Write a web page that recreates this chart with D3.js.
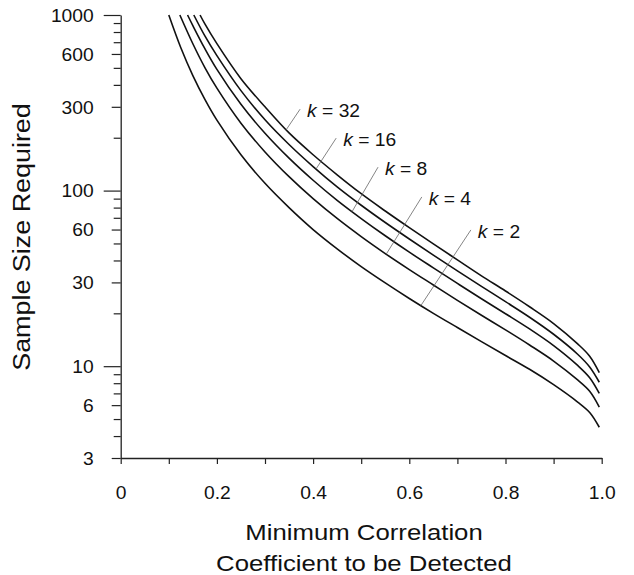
<!DOCTYPE html>
<html>
<head>
<meta charset="utf-8">
<style>
  body { margin: 0; background: #fff; }
  svg { display: block; font-family: "Liberation Sans", Arial, sans-serif; }
  .axis .domain { stroke: #222; stroke-width: 1.3; }
  .axis .tick line { stroke: #222; stroke-width: 1.2; }
  .axis .tick text { font-size: 17.5px; fill: #111; }
  .curve { fill: none; stroke: #111; stroke-width: 1.6; }
  .leader { stroke: #666; stroke-width: 0.8; }
  .k-label { font-size: 18.5px; fill: #111; }
  .axis-title { font-size: 23px; fill: #111; }
</style>
</head>
<body>
<svg width="634" height="575"></svg>
<script src="https://cdn.jsdelivr.net/npm/d3@7"></script>
<script>
// correlation grid shared by all curves
const corr = [0.1, 0.125, 0.15, 0.175, 0.2, 0.25, 0.3, 0.35, 0.4, 0.45, 0.5,
              0.55, 0.6, 0.65, 0.7, 0.75, 0.8, 0.85, 0.9, 0.95, 0.975, 0.995]

// sample size (null = curve not started yet)
const nK2  = [null, 651, 452, 331, 252, 160, 110, 80, 60, 46.6, 36.9, 29.8, 24.3, 20.0, 16.6, 13.8, 11.5, 9.6, 7.85, 6.25, 5.45, 4.49]
const nK4  = [null, null, 686, 502, 383, 242, 166, 120, 90, 69.4, 54.7, 43.8, 35.5, 29.0, 23.7, 19.5, 16.1, 13.2, 10.7, 8.35, 7.2, 5.85]
const nK8  = [null, null, 870, 643, 490, 310, 212, 153, 114.5, 88, 69.3, 55.3, 44.6, 36.3, 29.6, 24.2, 19.9, 16.3, 13.1, 10.1, 8.6, 7.0]
const nK16 = [null, null, null, 760, 587, 371, 253, 183, 137, 105, 82.5, 65.8, 53, 42.9, 34.9, 28.5, 23.3, 19.0, 15.2, 11.7, 9.9, 8.1]
const nK32 = [null, null, null, 890, 687, 434, 300, 213, 160, 123, 96, 76.5, 61.5, 49.7, 40.3, 32.7, 26.8, 21.8, 17.5, 13.4, 11.4, 9.2]

const kValues = [2, 4, 8, 16, 32]
const seriesN = [nK2, nK4, nK8, nK16, nK32]
// where each curve leaves the top of the plot (n = 1000)
const startCorr = [0.1, 0.123, 0.139, 0.152, 0.165]

// label leader lines: top end (label side) and bottom end (on curve)
const labelTopCorr = [0.728, 0.626, 0.535, 0.448, 0.373]
const labelTopN = [59.7, 92, 136, 199, 291]
const leaderCorr = [0.624, 0.552, 0.481, 0.406, 0.344]

const yTicks = [3, 4, 5, 6, 7, 8, 9, 10, 20, 30, 40, 50, 60, 70, 80, 90,
                100, 200, 300, 400, 500, 600, 700, 800, 900, 1000]
const yLabels = [3, 6, 10, 30, 60, 100, 300, 600, 1000]
const xTicks = [0, 0.1, 0.2, 0.3, 0.4, 0.5, 0.6, 0.7, 0.8, 0.9, 1.0]
const xLabels = ["0", "0.2", "0.4", "0.6", "0.8", "1.0"]

let svg = d3.select("svg")

let x = d3.scaleLinear().domain([0, 1]).range([120.7, 601.7])
let y = d3.scaleLog().domain([3, 1000]).range([458, 15])

// y axis
let gy = svg.append("g")
    .attr("class", "y axis")
    .attr("transform", `translate(${x(0)},0)`)
    .call(d3.axisLeft(y)
        .tickValues(yTicks)
        .tickSize(7)
        .tickSizeOuter(0)
        .tickFormat(d => yLabels.includes(d) ? d : ""))

gy.selectAll(".tick line")
    .attr("x2", d => [10, 100, 1000].includes(d) ? -17 : yLabels.includes(d) ? -9 : -7)

gy.selectAll(".tick text")
    .attr("x", 0)
    .attr("dy", "0.36em")
    .attr("transform", "translate(-27,0) scale(1.1,1)")

// x axis
let gx = svg.append("g")
    .attr("class", "x axis")
    .attr("transform", `translate(0,${y(3)})`)
    .call(d3.axisBottom(x)
        .tickValues(xTicks)
        .tickSize(6)
        .tickSizeOuter(0)
        .tickFormat((d, i) => i % 2 == 0 ? xLabels[i / 2] : ""))

gx.selectAll(".tick text")
    .attr("y", 0)
    .attr("dy", 0)
    .attr("transform", "translate(0,40.5) scale(1.1,1)")

// curves
let line = d3.line()
    .x(d => x(d.r))
    .y(d => y(d.n))
    .curve(d3.curveCatmullRom.alpha(0.5))

let curveData = seriesN.map((vals, i) => {
    let pts = [{r: startCorr[i], n: 1000}]
    vals.forEach((v, j) => { if (v != null) pts.push({r: corr[j], n: v}) })
    return pts
})

svg.append("g")
    .selectAll("path")
    .data(curveData)
    .join("path")
    .attr("class", "curve")
    .attr("d", line)

// value of a curve at r (log interpolation between read points)
function valueAt(pts, r) {
    for (let j = 1; j < pts.length; j++) {
        if (pts[j].r >= r) {
            let a = pts[j - 1], b = pts[j]
            let t = (r - a.r) / (b.r - a.r)
            return Math.exp(Math.log(a.n) + t * (Math.log(b.n) - Math.log(a.n)))
        }
    }
    return pts[pts.length - 1].n
}

// leaders and labels
kValues.forEach((k, i) => {
    let x1 = x(labelTopCorr[i]), y1 = y(labelTopN[i])
    let x2 = x(leaderCorr[i]), y2 = y(valueAt(curveData[i], leaderCorr[i]))

    svg.append("line")
        .attr("class", "leader")
        .attr("x1", x1).attr("y1", y1)
        .attr("x2", x2).attr("y2", y2)

    let t = svg.append("text")
        .attr("class", "k-label")
        .attr("transform", `translate(${x1 + 7},${y1 + 8}) scale(1.04,1)`)
    t.append("tspan").attr("font-style", "italic").text("k")
    t.append("tspan").text(" = " + k)
})

// axis titles
svg.append("text")
    .attr("class", "axis-title")
    .attr("text-anchor", "middle")
    .attr("transform", "translate(30,237) rotate(-90) scale(1.17,1)")
    .text("Sample Size Required")

svg.append("text")
    .attr("class", "axis-title")
    .attr("text-anchor", "middle")
    .attr("transform", "translate(364,540) scale(1.12,1)")
    .text("Minimum Correlation")

svg.append("text")
    .attr("class", "axis-title")
    .attr("text-anchor", "middle")
    .attr("transform", "translate(364,571) scale(1.12,1)")
    .text("Coefficient to be Detected")
</script>
</body>
</html>
